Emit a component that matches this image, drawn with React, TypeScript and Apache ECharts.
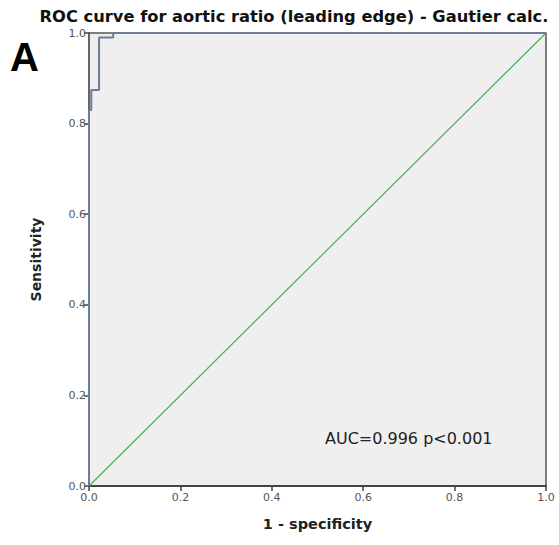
import React, { useEffect, useRef } from "react";
import * as echarts from "echarts";

const title = "ROC curve for aortic ratio (leading edge) - Gautier calc.";
const panelLetter = "A";
const xAxisName = "1 - specificity";
const yAxisName = "Sensitivity";
const aucText = "AUC=0.996 p<0.001";

// ROC curve points [1 - specificity, sensitivity]
const rocX = [0, 0, 0.005, 0.005, 0.022, 0.022, 0.053, 0.053, 1];
const rocY = [0, 0.83, 0.83, 0.874, 0.874, 0.99, 0.99, 1, 1];

// reference diagonal
const refX = [0, 1];
const refY = [0, 1];

export default function App() {
  const ref = useRef<HTMLDivElement>(null);
  useEffect(() => {
    if (!ref.current) return;
    const chart = echarts.init(ref.current, null, { renderer: "svg" });
    const font = "'DejaVu Sans', Verdana, sans-serif";
    chart.setOption({
      animation: false,
      backgroundColor: "#ffffff",
      textStyle: { fontFamily: font },
      title: {
        text: title,
        left: 289,
        textAlign: "center",
        top: 3,
        textStyle: { fontSize: 16.3, fontWeight: "bold", color: "#111", fontFamily: font },
      },
      grid: {
        left: 89,
        right: 13,
        top: 33,
        bottom: 59,
        show: true,
        backgroundColor: "#efefef",
        borderColor: "#555",
        borderWidth: 1.5,
      },
      xAxis: {
        type: "value",
        min: 0,
        max: 1,
        interval: 0.2,
        name: xAxisName,
        nameLocation: "middle",
        nameGap: 30,
        nameTextStyle: { fontSize: 14.5, fontWeight: "bold", color: "#222", fontFamily: font },
        axisLine: { show: true, onZero: false, lineStyle: { color: "#444", width: 2 } },
        axisTick: { show: true, length: 5, lineStyle: { color: "#444", width: 1.5 } },
        axisLabel: {
          formatter: (v: number) => v.toFixed(1),
          fontSize: 11,
          color: "#555",
          margin: 6,
          fontFamily: font,
        },
        splitLine: { show: false },
      },
      yAxis: {
        type: "value",
        min: 0,
        max: 1,
        interval: 0.2,
        name: yAxisName,
        nameLocation: "middle",
        nameGap: 46,
        nameRotate: 90,
        nameTextStyle: { fontSize: 14, fontWeight: "bold", color: "#222", fontFamily: font },
        axisLine: { show: true, onZero: false, lineStyle: { color: "#666", width: 2 } },
        axisTick: { show: true, length: 5, lineStyle: { color: "#444", width: 1.5 } },
        axisLabel: {
          formatter: (v: number) => v.toFixed(1),
          fontSize: 11,
          color: "#555",
          margin: 3,
          fontFamily: font,
        },
        splitLine: { show: false },
      },
      series: [
        {
          type: "line",
          data: refX.map((x, i) => [x, refY[i]]),
          showSymbol: false,
          lineStyle: { color: "#4caf50", width: 1.2 },
          z: 2,
        },
        {
          type: "line",
          data: rocX.map((x, i) => [x, rocY[i]]),
          showSymbol: false,
          lineStyle: { color: "#6f7c98", width: 2 },
          z: 3,
        },
      ],
      graphic: [
        {
          type: "text",
          left: 10,
          top: 37,
          style: { text: panelLetter, fontSize: 40, fontWeight: "bold", fill: "#000", fontFamily: "'Liberation Sans', Arial, sans-serif" },
        },
        {
          type: "text",
          left: 325,
          top: 430,
          style: { text: aucText, fontSize: 16, fill: "#222", fontFamily: font },
        },
      ],
    });
    return () => chart.dispose();
  }, []);
  return (
    <div
      ref={ref}
      style={{ position: "fixed", left: 0, top: 0, width: 559, height: 545 }}
    />
  );
}
